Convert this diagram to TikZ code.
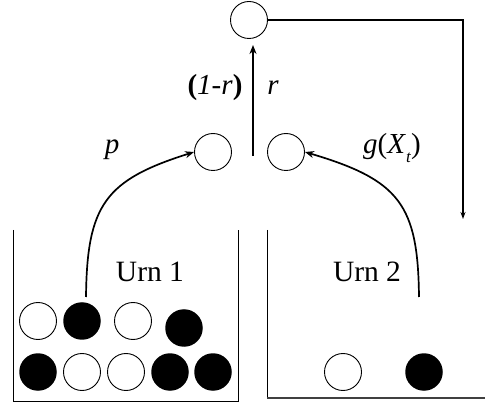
\documentclass[tikz,border=0pt]{standalone}
\usepackage{fontspec}
\setmainfont{Liberation Serif}
\usetikzlibrary{arrows.meta}
\begin{document}
\begin{tikzpicture}[x=1pt,y=-1pt,
  circ/.style={circle,draw,line width=0.9pt,minimum size=37pt,inner sep=0pt},
  wball/.style={circ,fill=white},
  bball/.style={circle,fill=black,minimum size=37.5pt,inner sep=0pt},
  conn/.style={line width=1.7pt,-{Stealth[length=9pt,width=7pt]}},
  wall/.style={line width=1pt},
  lbl/.style={font=\fontsize{29}{32}\selectfont,inner sep=0pt},
  urnlbl/.style={font=\fontsize{29.5}{32}\selectfont,inner sep=0pt}]
\useasboundingbox (0,0) rectangle (485,406);
% top and middle circles
\node[circ] (top) at (249,20) {};
\node[circ] (ml) at (213,152) {};
\node[circ] (mr) at (286,152) {};
% vertical arrow
\coordinate (vb) at (253,156);
\coordinate (vt) at (253,45);
\draw[conn] (vb) -- (vt);
\node[lbl] (omr) at (215,88) {\textbf{(}\textit{1-r}\textbf{)}};
\node[lbl] (rr) at (273,88) {\textit{r}};
% feedback line
\coordinate (tr) at (463,20);
\coordinate (drop) at (463,219);
\draw[line width=1.5pt,-{Stealth[length=7pt,width=5pt]}] (top.east) -- (tr) -- (drop);
% labels
\node[lbl] (p) at (112,150) {\textit{p}};
\node[lbl] (g) at (392,148) {\textit{g}(\textit{X}\raisebox{-0.3em}{\fontsize{17}{19}\selectfont\textit{t}})};
% urn walls
\draw[wall] (13,230) -- (13,401) -- (238,401) -- (238,230);
\draw[wall] (267,230) -- (267,398);
\draw[line width=1.6pt,black!75] (267,398) -- (485,398);
\node[urnlbl] (u1) at (150,272) {Urn 1};
\node[urnlbl] (u2) at (367,272) {Urn 2};
% curves
\coordinate (c1) at (86,297);
\coordinate (c2) at (419,297);
\draw[conn] (c1) .. controls (87,205) and (105,180) .. (ml.west);
\draw[conn] (c2) .. controls (418,205) and (400,180) .. (mr.east);
% balls urn 1
\node[wball] (a1) at (38,321) {};
\node[bball] (a2) at (82,321) {};
\node[wball] (a3) at (133,321) {};
\node[bball] (a4) at (184,328) {};
\node[bball] (b1) at (38,372) {};
\node[wball] (b2) at (82,372) {};
\node[wball] (b3) at (126,372) {};
\node[bball] (b4) at (170,372) {};
\node[bball] (b5) at (213,372) {};
% balls urn 2
\node[wball] (d1) at (343,372) {};
\node[bball] (d2) at (424,372) {};
\end{tikzpicture}
\end{document}
